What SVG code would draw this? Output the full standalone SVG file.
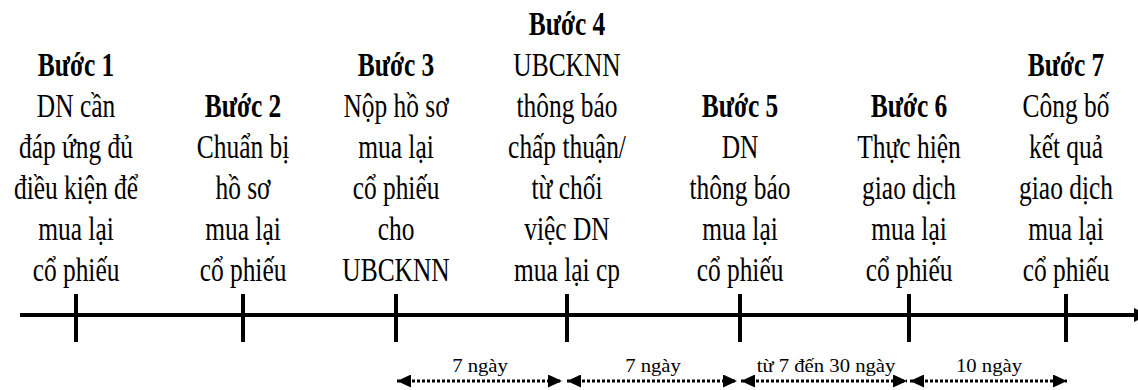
<svg xmlns="http://www.w3.org/2000/svg" width="1138" height="390" viewBox="0 0 1138 390">
  <defs>
    <style>
      .step { font-family: "Liberation Serif", "Times New Roman", serif; font-size: 33px; fill: #000; text-anchor: middle; }
      .h { font-weight: bold; }
      .dur { font-family: "Liberation Serif", "Times New Roman", serif; font-size: 18px; fill: #000; text-anchor: middle; }
      .axis { stroke: #000; stroke-width: 4; fill: none; }
      .tick { stroke: #000; stroke-width: 4; }
      .span { stroke: #000; stroke-width: 3; stroke-dasharray: 3 2; fill: none; marker-start: url(#head); marker-end: url(#head); }
    </style>
    <marker id="head" markerUnits="userSpaceOnUse" markerWidth="14" markerHeight="13" viewBox="0 0 14 13" refX="14" refY="6.5" orient="auto-start-reverse">
      <path d="M0,0 L14,6.5 L0,13 Z" fill="#000"/>
    </marker>
  </defs>

  <rect width="1138" height="390" fill="#fff"/>

  <!-- timeline axis, ticks and duration spans -->
  <g id="connectors">
    <line class="axis" x1="20" y1="315" x2="1136" y2="315"/>
    <polygon points="1134,308 1134,322 1148,315" fill="#000"/>
    <line class="tick" x1="76" y1="294" x2="76" y2="342"/>
    <line class="tick" x1="243" y1="294" x2="243" y2="342"/>
    <line class="tick" x1="396" y1="294" x2="396" y2="342"/>
    <line class="tick" x1="567" y1="294" x2="567" y2="342"/>
    <line class="tick" x1="740" y1="294" x2="740" y2="342"/>
    <line class="tick" x1="909" y1="294" x2="909" y2="342"/>
    <line class="tick" x1="1066" y1="294" x2="1066" y2="342"/>

    <path class="span" d="M397,381 H562"/>
    <path class="span" d="M567,381 H737"/>
    <path class="span" d="M741,381 H907"/>
    <path class="span" d="M910,381 H1067"/>

    <g transform="translate(480,372) scale(1.15,1)"><text class="dur" x="0" y="0">7 ngày</text></g>
    <g transform="translate(653,372) scale(1.15,1)"><text class="dur" x="0" y="0">7 ngày</text></g>
    <g transform="translate(826,372) scale(1.15,1)"><text class="dur" x="0" y="0">từ 7 đến 30 ngày</text></g>
    <g transform="translate(989,372) scale(1.15,1)"><text class="dur" x="0" y="0">10 ngày</text></g>
  </g>

  <!-- step captions, one per tick -->
  <g id="step1" class="step" transform="translate(76,0) scale(0.77,1)">
    <text class="h" x="0" y="76">Bước 1</text>
    <text x="0" y="117">DN cần</text>
    <text x="0" y="158">đáp ứng đủ</text>
    <text x="0" y="199">điều kiện để</text>
    <text x="0" y="240">mua lại</text>
    <text x="0" y="281">cổ phiếu</text>
  </g>

  <g id="step2" class="step" transform="translate(243,0) scale(0.77,1)">
    <text class="h" x="0" y="117">Bước 2</text>
    <text x="0" y="158">Chuẩn bị</text>
    <text x="0" y="199">hồ sơ</text>
    <text x="0" y="240">mua lại</text>
    <text x="0" y="281">cổ phiếu</text>
  </g>

  <g id="step3" class="step" transform="translate(396,0) scale(0.77,1)">
    <text class="h" x="0" y="76">Bước 3</text>
    <text x="0" y="117">Nộp hồ sơ</text>
    <text x="0" y="158">mua lại</text>
    <text x="0" y="199">cổ phiếu</text>
    <text x="0" y="240">cho</text>
    <text x="0" y="281">UBCKNN</text>
  </g>

  <g id="step4" class="step" transform="translate(567,0) scale(0.77,1)">
    <text class="h" x="0" y="35">Bước 4</text>
    <text x="0" y="76">UBCKNN</text>
    <text x="0" y="117">thông báo</text>
    <text x="0" y="158">chấp thuận/</text>
    <text x="0" y="199">từ chối</text>
    <text x="0" y="240">việc DN</text>
    <text x="0" y="281">mua lại cp</text>
  </g>

  <g id="step5" class="step" transform="translate(740,0) scale(0.77,1)">
    <text class="h" x="0" y="117">Bước 5</text>
    <text x="0" y="158">DN</text>
    <text x="0" y="199">thông báo</text>
    <text x="0" y="240">mua lại</text>
    <text x="0" y="281">cổ phiếu</text>
  </g>

  <g id="step6" class="step" transform="translate(909,0) scale(0.77,1)">
    <text class="h" x="0" y="117">Bước 6</text>
    <text x="0" y="158">Thực hiện</text>
    <text x="0" y="199">giao dịch</text>
    <text x="0" y="240">mua lại</text>
    <text x="0" y="281">cổ phiếu</text>
  </g>

  <g id="step7" class="step" transform="translate(1066,0) scale(0.77,1)">
    <text class="h" x="0" y="76">Bước 7</text>
    <text x="0" y="117">Công bố</text>
    <text x="0" y="158">kết quả</text>
    <text x="0" y="199">giao dịch</text>
    <text x="0" y="240">mua lại</text>
    <text x="0" y="281">cổ phiếu</text>
  </g>
</svg>
